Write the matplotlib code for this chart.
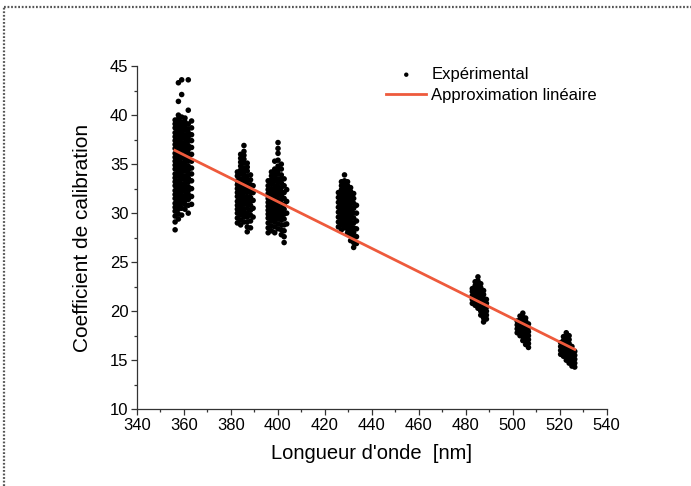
import numpy as np
import matplotlib
matplotlib.use("Agg")
import matplotlib.pyplot as plt
from matplotlib.lines import Line2D

plt.rcParams['font.family'] = ['Liberation Sans', 'DejaVu Sans']

# calibration points, one dict per wavelength group
# key = wavelength [nm], value = coefficients measured at that wavelength
grp_360 = {
    356.3: [28.3, 29.1, 29.7, 30.2, 30.6, 31.0, 31.5, 31.9, 32.3, 32.8, 33.2, 33.6, 34.0,
            34.5, 34.9, 35.3, 35.7, 36.1, 36.6, 37.0, 37.4, 37.8, 38.2, 38.7, 39.1, 39.5],
    357.7: [29.4, 29.9, 30.4, 30.8, 31.2, 31.7, 32.1, 32.5, 32.9, 33.3, 33.8, 34.2, 34.6, 35.0,
            35.4, 35.9, 36.3, 36.7, 37.1, 37.5, 38.0, 38.4, 38.8, 39.2, 39.6, 40.0, 41.4, 43.3],
    359.1: [29.8, 30.5, 31.0, 31.4, 31.8, 32.2, 32.6, 33.0, 33.5, 33.9, 34.3, 34.7, 35.1,
            35.6, 36.0, 36.4, 36.8, 37.2, 37.7, 38.1, 38.5, 38.9, 39.3, 39.8, 42.1, 43.6],
    360.5: [30.4, 30.9, 31.3, 31.7, 32.2, 32.6, 33.0, 33.4, 33.8, 34.3, 34.7, 35.1,
            35.5, 35.9, 36.4, 36.8, 37.2, 37.6, 38.0, 38.5, 38.9, 39.3, 39.7],
    361.9: [30.0, 30.8, 31.4, 31.9, 32.3, 32.7, 33.2, 33.6, 34.0, 34.4, 34.8, 35.3,
            35.7, 36.1, 36.5, 36.9, 37.4, 37.8, 38.2, 38.6, 39.1, 40.5, 43.6],
    363.3: [30.9, 31.7, 32.5, 33.3, 34.0, 34.6, 35.3, 36.0, 36.7, 37.4, 38.0, 38.7, 39.4],
}
grp_386 = {
    382.8: [29.0, 29.5, 30.0, 30.4, 30.8, 31.2, 31.7, 32.1, 32.5, 32.9, 33.3, 33.8, 34.2],
    384.2: [28.8, 29.3, 29.8, 30.2, 30.6, 31.0, 31.4, 31.9, 32.3, 32.7, 33.1, 33.5, 34.0,
            34.4, 34.8, 35.2, 35.6, 36.0],
    385.6: [29.1, 29.6, 30.0, 30.4, 30.9, 31.3, 31.7, 32.1, 32.5, 33.0, 33.4, 33.8, 34.2,
            34.6, 35.1, 35.5, 35.9, 36.3, 36.9],
    387.0: [28.1, 28.6, 29.1, 29.6, 30.0, 30.5, 30.9, 31.3, 31.7, 32.2, 32.6, 33.0, 33.4,
            33.8, 34.3, 34.7, 35.1],
    388.4: [28.5, 29.2, 29.8, 30.3, 30.8, 31.2, 31.6, 32.1, 32.5, 32.9, 33.4, 33.9],
    389.5: [29.6, 30.5, 31.3, 32.1, 32.8],
}
grp_400 = {
    395.9: [28.0, 28.5, 29.0, 29.5, 29.9, 30.3, 30.7, 31.1, 31.5, 32.0, 32.4, 32.8, 33.3],
    397.3: [28.2, 28.7, 29.2, 29.6, 30.0, 30.4, 30.9, 31.3, 31.7, 32.1, 32.5, 33.0, 33.4,
            33.8, 34.2],
    398.7: [28.0, 28.6, 29.1, 29.5, 29.9, 30.3, 30.7, 31.2, 31.6, 32.0, 32.4, 32.8, 33.3,
            33.7, 34.1, 34.5, 35.3],
    400.1: [28.4, 28.9, 29.4, 29.8, 30.2, 30.6, 31.0, 31.4, 31.9, 32.3, 32.7, 33.1, 33.5,
            34.0, 34.4, 34.8, 35.4, 36.1, 36.6, 37.2],
    401.5: [27.8, 28.3, 28.8, 29.3, 29.7, 30.1, 30.5, 31.0, 31.4, 31.8, 32.2, 32.6, 33.1,
            33.5, 33.9, 34.5, 35.0],
    402.7: [27.0, 27.6, 28.2, 28.8, 29.4, 29.9, 30.4, 30.9, 31.5, 32.1, 32.8, 33.5],
    403.8: [28.9, 30.0, 31.2, 32.4],
}
grp_430 = {
    425.8: [28.6, 29.1, 29.6, 30.1, 30.6, 31.1, 31.6, 32.1],
    427.1: [28.3, 28.8, 29.2, 29.6, 30.0, 30.4, 30.8, 31.2, 31.6, 32.0, 32.4, 32.8, 33.2],
    428.4: [28.5, 28.9, 29.3, 29.7, 30.1, 30.5, 30.9, 31.3, 31.7, 32.1, 32.5, 32.9, 33.3, 33.9],
    429.7: [28.0, 28.4, 28.8, 29.2, 29.6, 30.0, 30.4, 30.8, 31.2, 31.6, 32.0, 32.4, 32.8, 33.2],
    431.0: [27.2, 27.7, 28.2, 28.6, 29.0, 29.4, 29.8, 30.2, 30.6, 31.0, 31.4, 31.8, 32.2, 32.6],
    432.3: [26.5, 27.0, 27.5, 28.0, 28.5, 29.0, 29.5, 30.0, 30.5, 31.0, 31.5, 32.0],
    433.5: [26.9, 27.6, 28.4, 29.2, 30.0, 30.8],
}
grp_486 = {
    482.8: [20.8, 21.2, 21.6, 22.0, 22.3],
    484.0: [20.6, 21.0, 21.4, 21.8, 22.2, 22.6, 23.0],
    485.2: [20.3, 20.7, 21.1, 21.5, 21.9, 22.3, 22.7, 23.1, 23.5],
    486.4: [19.6, 20.0, 20.4, 20.8, 21.2, 21.6, 22.0, 22.4, 22.8],
    487.6: [18.9, 19.3, 19.7, 20.1, 20.5, 20.9, 21.3, 21.7, 22.1],
    488.8: [19.2, 19.6, 20.0, 20.4, 20.8, 21.2],
}
grp_505 = {
    501.9: [17.8, 18.2, 18.6, 19.0],
    503.1: [17.5, 17.9, 18.3, 18.7, 19.1, 19.5],
    504.3: [17.0, 17.4, 17.8, 18.2, 18.6, 19.0, 19.4, 19.8],
    505.5: [16.6, 17.0, 17.4, 17.8, 18.2, 18.6, 19.0, 19.3],
    506.7: [16.3, 16.7, 17.1, 17.5, 17.9, 18.3, 18.7],
}
grp_524 = {
    520.4: [15.6, 16.0, 16.4, 16.8],
    521.6: [15.4, 15.8, 16.2, 16.6, 17.0, 17.4],
    522.8: [15.0, 15.4, 15.8, 16.2, 16.6, 17.0, 17.4, 17.8],
    524.0: [14.7, 15.1, 15.5, 15.9, 16.3, 16.7, 17.1, 17.5],
    525.2: [14.4, 14.8, 15.2, 15.6, 16.0, 16.4],
    526.4: [14.3, 14.7, 15.1, 15.5, 15.9],
}

# linear fit, end points
fit_x = [356.2, 526.4]
fit_y = [36.4, 16.1]

groups = [grp_360, grp_386, grp_400, grp_430, grp_486, grp_505, grp_524]

xs = []
ys = []
for g in groups:
    for wl, vals in g.items():
        xs += [wl] * len(vals)
        ys += vals

fig = plt.figure(figsize=(6.91, 4.86), dpi=100)
ax = fig.add_axes([0.198, 0.158, 0.68, 0.706])

ax.scatter(xs, ys, s=16, c='black', edgecolors='none', label='Expérimental', zorder=2)
ax.plot(fit_x, fit_y, color='#ee5a3c', lw=2.0, label='Approximation linéaire', zorder=3)

ax.set_xlim(340, 540)
ax.set_ylim(10, 45)
ax.set_xticks(np.arange(340, 541, 20))
ax.set_xticks(np.arange(350, 540, 20), minor=True)
ax.set_yticks(np.arange(10, 46, 5))
ax.set_yticks(np.arange(12.5, 45, 5), minor=True)

for s in ['top', 'right']:
    ax.spines[s].set_visible(False)
for s in ['left', 'bottom']:
    ax.spines[s].set_color('#333333')
    ax.spines[s].set_linewidth(0.9)

ax.tick_params(which='major', direction='out', length=4, width=0.9, color='#333333',
               labelsize=12, pad=2)
ax.tick_params(which='minor', direction='out', length=2.5, width=0.9, color='#333333')

ax.set_xlabel("Longueur d'onde  [nm]", fontsize=14.5, labelpad=8)
ax.set_ylabel("Coefficient de calibration", fontsize=15, labelpad=13)

leg = ax.legend(loc='upper left', bbox_to_anchor=(0.559, 0.862), bbox_transform=fig.transFigure,
                frameon=False, fontsize=12, handlelength=2.4, handletextpad=0.3,
                labelspacing=0.35, borderaxespad=0, borderpad=0, scatterpoints=1)
leg.legend_handles[0].set_sizes([10])

# dotted frame round the figure (only top and left visible)
fig.add_artist(Line2D([0.006, 1.0], [0.986, 0.986], transform=fig.transFigure,
                      color='#555555', lw=1.6, ls=(0, (0.8, 0.8))))
fig.add_artist(Line2D([0.006, 0.006], [0.0, 0.986], transform=fig.transFigure,
                      color='#555555', lw=1.6, ls=(0, (0.8, 0.8))))

fig.savefig('out.png', dpi=100)
